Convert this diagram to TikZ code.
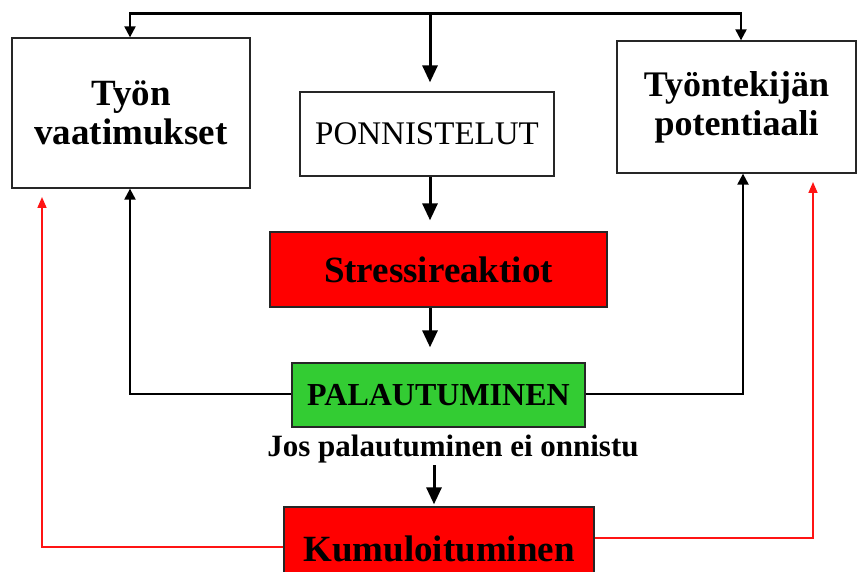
\documentclass[tikz,border=0pt]{standalone}
\usepackage{fontspec}
\setmainfont{Liberation Serif}
\usetikzlibrary{arrows.meta}
\definecolor{boxred}{RGB}{255,0,0}
\definecolor{boxgreen}{RGB}{51,204,51}
\definecolor{linered}{RGB}{255,20,20}
\begin{document}
\begin{tikzpicture}[x=1pt,y=-1pt,
  box/.style={draw=black!85, line width=1.3pt, inner sep=0pt, align=center},
  bus/.style={line width=2.4pt, line cap=rect},
  smallarr/.style={line width=2.2pt, -{Triangle[width=11pt,length=11pt]}},
  bigarr/.style={line width=3pt, -{Triangle[width=15pt,length=17pt]}},
  redarr/.style={draw=linered, line width=1.6pt, -{Triangle[width=9pt,length=11pt]}},
]
\useasboundingbox (0,0) rectangle (857,572);

% boxes
\node[box, font=\bfseries\fontsize{37}{39}\selectfont, minimum width=238pt, minimum height=150pt] (vaat) at (131,113) {Työn\\vaatimukset};
\node[box, font=\fontsize{33}{36}\selectfont, minimum width=254pt, minimum height=84pt] (ponn) at (427,134) {PONNISTELUT};
\node[box, font=\bfseries\fontsize{36}{39}\selectfont, minimum width=239pt, minimum height=132pt] (pot) at (736.5,107) {Työntekijän\\potentiaali};
\node[box, fill=boxred, font=\bfseries\fontsize{37}{40}\selectfont, minimum width=337pt, minimum height=75pt] (stress) at (438.5,269.5) {Stressireaktiot};
\node[box, fill=boxgreen, font=\bfseries\fontsize{32}{35}\selectfont, minimum width=293pt, minimum height=64pt] (pal) at (438.5,395) {PALAUTUMINEN};
\node[font=\bfseries\fontsize{31}{34}\selectfont, inner sep=2pt] (ehto) at (453,449) {Jos palautuminen ei onnistu};
\node[box, fill=boxred, font=\bfseries\fontsize{37}{40}\selectfont, minimum width=310pt, minimum height=83pt] (kum) at (439,548.5) {Kumuloituminen};

% distribution bar along the top
\coordinate (busL) at (130,13.5);
\coordinate (busM) at (430,13.5);
\coordinate (busR) at (741,13.5);
\draw[bus] (busL) -- (busR);
\draw[smallarr] (busL) -- (busL |- vaat.north);
\draw[smallarr] (busR) -- (busR |- pot.north);
\draw[bigarr, shorten >=9pt] (busM) -- (busM |- ponn.north);

% central chain
\draw[bigarr, shorten >=11pt] (busM |- ponn.south) -- (busM |- stress.north);
\draw[bigarr, shorten >=15pt] (busM |- stress.south) -- (busM |- pal.north);
\coordinate (ax) at (434,0);
\draw[bigarr, shorten >=2pt] (ehto.south -| ax) -- (kum.north -| ax);

% feedback from recovery
\coordinate (fbL) at (130,394);
\coordinate (fbR) at (743,394);
\draw[smallarr] (pal.west |- fbL) -- (fbL) -- (fbL |- vaat.south);
\draw[smallarr] (pal.east |- fbR) -- (fbR) -- (fbR |- pot.south);

% feedback from accumulation
\coordinate (rdL) at (42,547);
\coordinate (rdLt) at (42,197);
\coordinate (rdR) at (813,538);
\coordinate (rdRt) at (813,182);
\draw[redarr] (kum.west |- rdL) -- (rdL) -- (rdLt);
\draw[redarr] (kum.east |- rdR) -- (rdR) -- (rdRt);
\end{tikzpicture}
\end{document}
